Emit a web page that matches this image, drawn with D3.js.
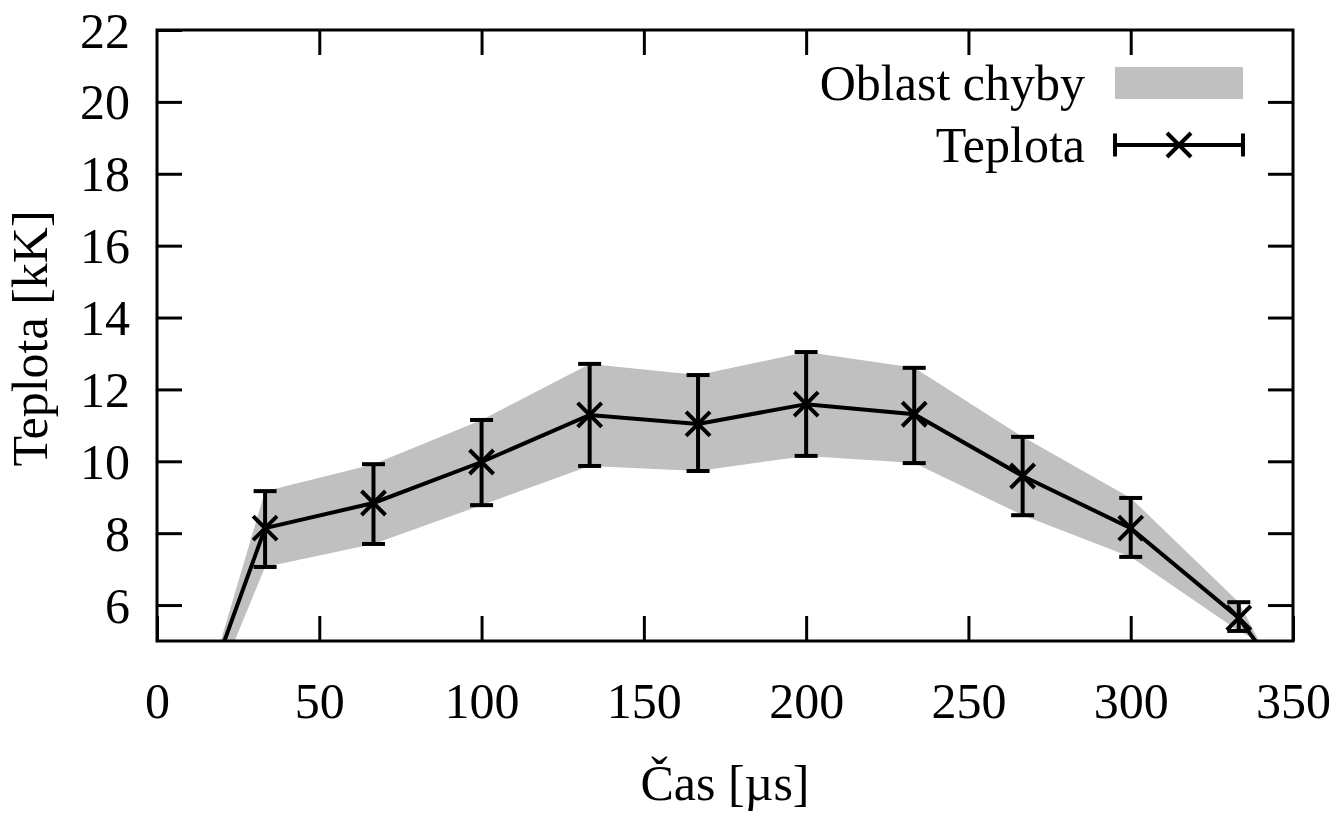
<!DOCTYPE html>
<html><head><meta charset="utf-8">
<script src="https://cdn.jsdelivr.net/npm/d3@7"></script>
<style>body{margin:0;background:#fff}svg{display:block}svg text{font-family:"Liberation Serif",serif}</style>
</head><body>
<svg id="c" width="1342" height="825"></svg>
<script>
const times = [0, 33.3, 66.7, 100, 133.3, 166.7, 200, 233.3, 266.7, 300, 333.3, 366.7];
const temps = [-0.2, 8.14, 8.84, 9.98, 11.29, 11.04, 11.59, 11.31, 9.59, 8.14, 5.64, 1.44];
const lowerErr = [-0.25, 7.06, 7.70, 8.78, 9.87, 9.73, 10.15, 9.95, 8.50, 7.34, 5.28, 3.7];
const upperErr = [-1.0, 9.17, 9.92, 11.15, 12.71, 12.40, 13.04, 12.60, 10.68, 8.98, 6.08, 0.3];
const xTicks = [0, 50, 100, 150, 200, 250, 300, 350];
const yTicks = [6, 8, 10, 12, 14, 16, 18, 20, 22];
const legendLabels = ["Oblast chyby", "Teplota"];
const xTitle = "Čas [µs]";
const yTitle = "Teplota [kK]";

const svg = d3.select("#c");
const L = 157, R = 1293, T = 30, B = 641;
const x = d3.scaleLinear().domain([0, 350]).range([L, R]);
const y = d3.scaleLinear().domain([5, 22]).range([B, T]);
const FS = 50;
const data = times.map((t, i) => ({t, v: temps[i], lo: lowerErr[i], hi: upperErr[i]}));

svg.append("defs").append("clipPath").attr("id", "clip")
  .append("rect").attr("x", L).attr("y", T).attr("width", R - L).attr("height", B - T);

const g = svg.append("g").attr("clip-path", "url(#clip)");
g.append("path").datum(data)
  .attr("d", d3.area().x(d => x(d.t)).y0(d => y(d.lo)).y1(d => y(d.hi)))
  .attr("fill", "#c0c0c0");
g.append("path").datum(data)
  .attr("d", d3.line().x(d => x(d.t)).y(d => y(d.v)))
  .attr("fill", "none").attr("stroke", "#000").attr("stroke-width", 4);

const cw = 11.5, ms = 12;
const pts = g.selectAll("g.pt").data(data).enter().append("g").attr("class", "pt");
pts.append("line").attr("x1", d => x(d.t)).attr("x2", d => x(d.t))
  .attr("y1", d => y(d.lo)).attr("y2", d => y(d.hi));
pts.append("line").attr("x1", d => x(d.t) - cw).attr("x2", d => x(d.t) + cw)
  .attr("y1", d => y(d.lo)).attr("y2", d => y(d.lo));
pts.append("line").attr("x1", d => x(d.t) - cw).attr("x2", d => x(d.t) + cw)
  .attr("y1", d => y(d.hi)).attr("y2", d => y(d.hi));
pts.append("path").attr("d", d => {
  const cx = x(d.t), cy = y(d.v);
  return `M${cx - ms},${cy - ms}L${cx + ms},${cy + ms}M${cx - ms},${cy + ms}L${cx + ms},${cy - ms}`;
});
pts.selectAll("line,path").attr("stroke", "#000").attr("stroke-width", 4).attr("fill", "none");

const tl = 25;
const axB = svg.append("g").attr("transform", `translate(0,${B})`)
  .call(d3.axisBottom(x).tickValues(xTicks).tickSize(-tl).tickPadding(41).tickFormat(d3.format("d")));
const axT = svg.append("g").attr("transform", `translate(0,${T})`)
  .call(d3.axisTop(x).tickValues(xTicks.slice(1, -1)).tickSize(-tl).tickFormat(""));
const axL = svg.append("g").attr("transform", `translate(${L},0)`)
  .call(d3.axisLeft(y).tickValues(yTicks).tickSize(-tl).tickPadding(27).tickFormat(d3.format("d")));
const axR = svg.append("g").attr("transform", `translate(${R},0)`)
  .call(d3.axisRight(y).tickValues(yTicks.slice(0, -1)).tickSize(-tl).tickFormat(""));
[axB, axT, axL, axR].forEach(a => {
  a.attr("font-family", null);
  a.select(".domain").remove();
  a.selectAll(".tick line").attr("stroke", "#000").attr("stroke-width", 3);
  a.selectAll("text").style("font-family", "Liberation Serif").attr("font-size", FS).attr("fill", "#000");
});
axB.selectAll("text").attr("dy", "0.71em");
axL.selectAll("text").attr("dy", "0.34em");

svg.append("rect").attr("x", L).attr("y", T).attr("width", R - L).attr("height", B - T)
  .attr("fill", "none").attr("stroke", "#000").attr("stroke-width", 3);

svg.append("text").attr("x", (L + R) / 2).attr("y", 800).attr("text-anchor", "middle")
  .attr("font-size", FS).text(xTitle);
svg.append("text").attr("transform", `translate(47,${(T + B) / 2 + 3}) rotate(-90)`)
  .attr("text-anchor", "middle").attr("font-size", FS).text(yTitle);

const lx1 = 1115, lx2 = 1243, ly1 = 83, ly2 = 145;
svg.append("text").attr("x", 1085).attr("y", ly1).attr("dy", "0.34em").attr("text-anchor", "end")
  .attr("font-size", FS).text(legendLabels[0]);
svg.append("rect").attr("x", lx1).attr("y", ly1 - 16).attr("width", lx2 - lx1).attr("height", 32).attr("fill", "#c0c0c0");
svg.append("text").attr("x", 1085).attr("y", ly2).attr("dy", "0.34em").attr("text-anchor", "end")
  .attr("font-size", FS).text(legendLabels[1]);
const lg = svg.append("g").attr("stroke", "#000").attr("stroke-width", 4).attr("fill", "none");
lg.append("line").attr("x1", lx1).attr("x2", lx2).attr("y1", ly2).attr("y2", ly2);
lg.append("line").attr("x1", lx1).attr("x2", lx1).attr("y1", ly2 - cw).attr("y2", ly2 + cw);
lg.append("line").attr("x1", lx2).attr("x2", lx2).attr("y1", ly2 - cw).attr("y2", ly2 + cw);
const mx = (lx1 + lx2) / 2;
lg.append("path").attr("d", `M${mx - ms},${ly2 - ms}L${mx + ms},${ly2 + ms}M${mx - ms},${ly2 + ms}L${mx + ms},${ly2 - ms}`);
</script>
</body></html>
